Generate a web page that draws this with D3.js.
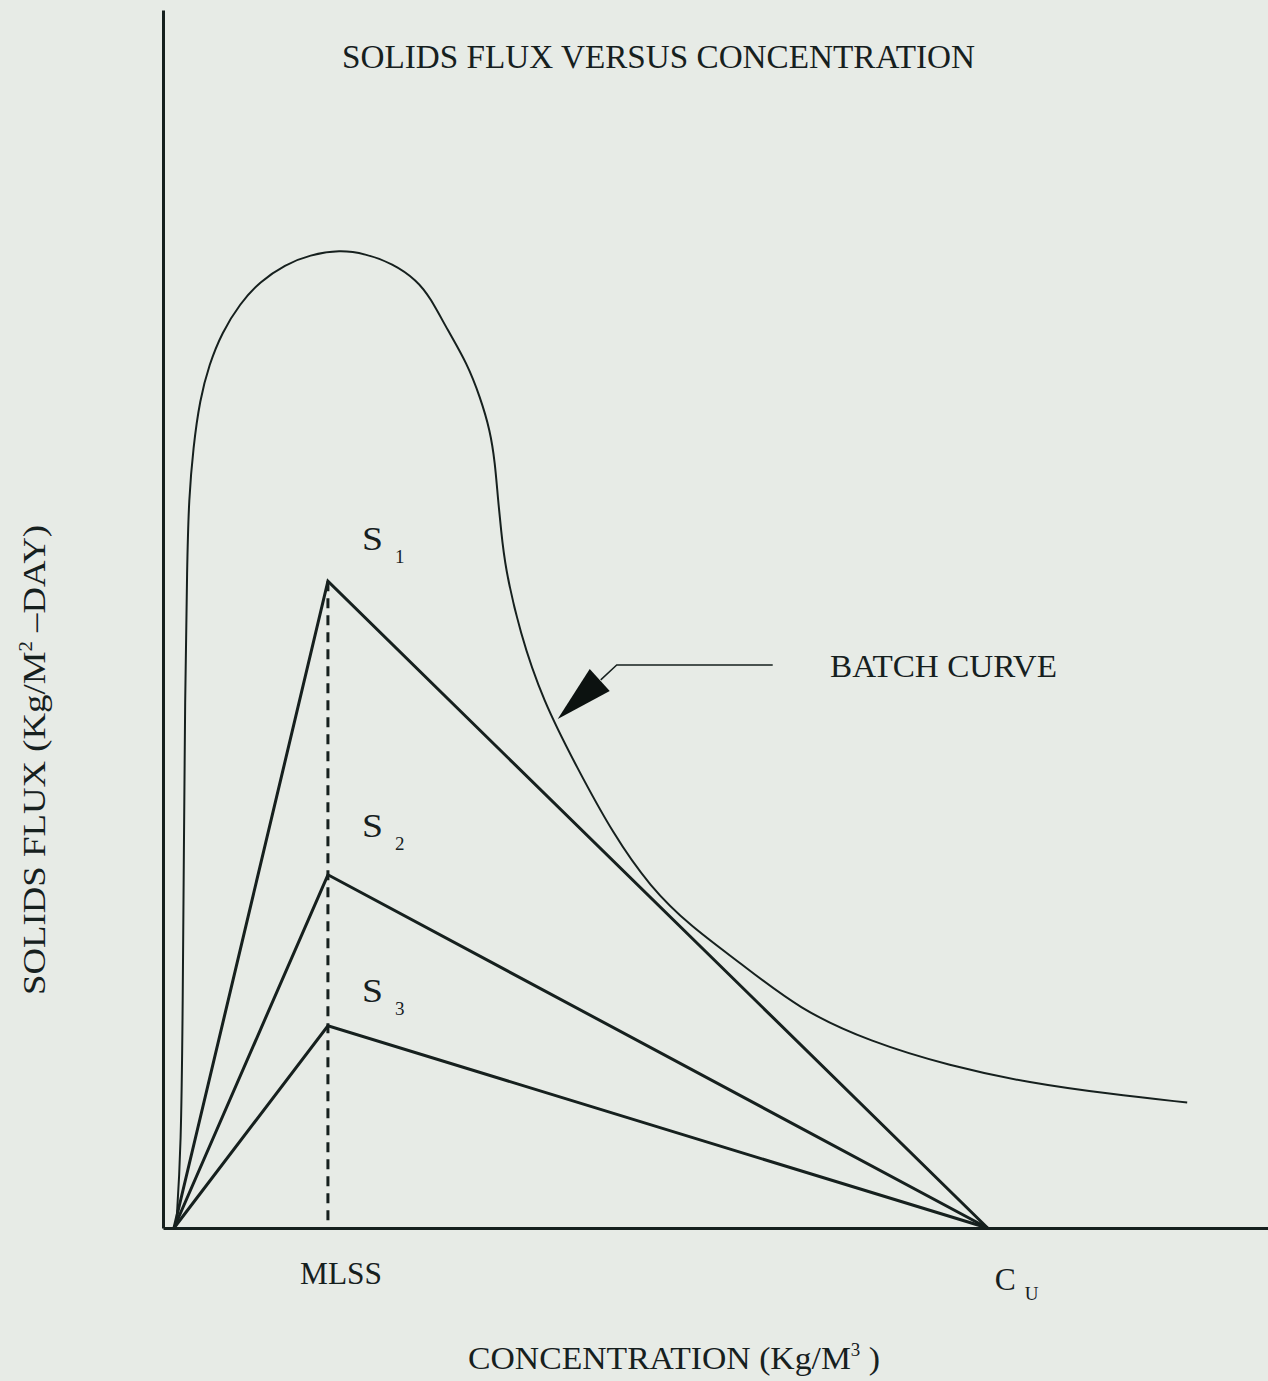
<!DOCTYPE html>
<html>
<head>
<meta charset="utf-8">
<script src="https://cdn.jsdelivr.net/npm/d3@7"></script>
<style>
  html, body { margin: 0; padding: 0; background: #e7ebe6; }
  svg { display: block; }
  text { font-family: "Liberation Serif", "DejaVu Serif", Times, serif; fill: #16201e; }
</style>
</head>
<body>
<script>
// ---------- data ----------
const title = "SOLIDS FLUX VERSUS CONCENTRATION";
const xAxisLabel = "CONCENTRATION (Kg/M";
const yAxisLabel = "SOLIDS FLUX (Kg/M";
const xTickLabels = ["MLSS", "C"];
const seriesNames = ["S", "S", "S"];
const seriesSubs = ["1", "2", "3"];

// operating lines: start -> (MLSS, peak) -> (Cu, 0)
const lineStartConc = 0.2;
const mlssConc = 3;
const cuConc = 15;
const seriesPeaks = [5.31, 2.90, 1.66];

// batch flux curve
const batchConc = [0.24, 0.33, 0.36, 0.38, 0.40, 0.44, 0.47, 0.55, 0.67, 0.84, 1.07, 1.40, 1.76, 2.22, 2.67, 3.22, 3.67, 4.18, 4.62, 4.86, 5.18, 5.53, 5.77, 5.95, 6.04, 6.09, 6.15, 6.22, 6.49, 6.91, 7.53, 8.18, 8.86, 9.59, 10.49, 11.59, 12.86, 14.31, 15.77, 17.22, 18.63];
const batchFlux = [0.02, 0.64, 1.87, 3.10, 4.33, 5.48, 5.98, 6.41, 6.80, 7.09, 7.35, 7.59, 7.77, 7.91, 7.99, 8.03, 8.00, 7.92, 7.78, 7.64, 7.37, 7.10, 6.82, 6.55, 6.28, 6.00, 5.73, 5.43, 4.89, 4.33, 3.78, 3.24, 2.80, 2.48, 2.18, 1.79, 1.53, 1.33, 1.19, 1.10, 1.03];
const batchLabel = "BATCH CURVE";
const arrowTip = [7.18, 4.18];

// ---------- drawing ----------
const W = 1268, H = 1381;
const ink = "#16201e";
const svg = d3.select("body").append("svg").attr("width", W).attr("height", H);
svg.append("rect").attr("width", W).attr("height", H).attr("fill", "#e7ebe6");

const x = d3.scaleLinear().domain([0, 20.1]).range([163, 1268]);
const y = d3.scaleLinear().domain([0, 10]).range([1228, 10]);

// axes (plain lines, no ticks)
const xAxis = d3.axisBottom(x).tickValues([]).tickSizeOuter(0);
const yAxis = d3.axisLeft(y).tickValues([]).tickSizeOuter(0);
svg.append("g").attr("transform", `translate(0,${y(0)})`).call(xAxis)
  .select(".domain").attr("stroke", ink).attr("stroke-width", 3);
svg.append("g").attr("transform", `translate(${x(0)},0)`).call(yAxis)
  .select(".domain").attr("stroke", ink).attr("stroke-width", 3);

// batch curve
const batchData = batchConc.map((c, i) => [c, batchFlux[i]]);
svg.append("path")
  .datum(batchData)
  .attr("fill", "none").attr("stroke", ink).attr("stroke-width", 2)
  .attr("d", d3.line().x(d => x(d[0])).y(d => y(d[1])).curve(d3.curveBasis));

// dashed MLSS line
svg.append("line")
  .attr("x1", x(mlssConc)).attr("x2", x(mlssConc))
  .attr("y1", y(seriesPeaks[0])).attr("y2", y(0))
  .attr("stroke", ink).attr("stroke-width", 3).attr("stroke-dasharray", "10,7");

// operating lines
const opLine = d3.line().x(d => x(d[0])).y(d => y(d[1]));
seriesPeaks.forEach(p => {
  svg.append("path")
    .datum([[lineStartConc, 0], [mlssConc, p], [cuConc, 0]])
    .attr("fill", "none").attr("stroke", ink).attr("stroke-width", 3)
    .attr("stroke-linejoin", "miter")
    .attr("d", opLine);
});

// series labels
const labelLift = [31, 38, 24];
seriesPeaks.forEach((p, i) => {
  const lx = x(mlssConc) + 34, ly = y(p) - labelLift[i];
  svg.append("text").attr("x", lx).attr("y", ly).attr("font-size", 33)
    .attr("textLength", 21).attr("lengthAdjust", "spacingAndGlyphs").text(seriesNames[i]);
  svg.append("text").attr("x", lx + 33).attr("y", ly + 13).attr("font-size", 19).text(seriesSubs[i]);
});

// title
svg.append("text").attr("x", 342).attr("y", 68).attr("font-size", 33)
  .attr("textLength", 633).attr("lengthAdjust", "spacingAndGlyphs").text(title);

// x tick labels
svg.append("text").attr("x", 300).attr("y", 1284).attr("font-size", 32)
  .attr("textLength", 82).attr("lengthAdjust", "spacingAndGlyphs").text(xTickLabels[0]);
svg.append("text").attr("x", x(cuConc) + 7).attr("y", 1290).attr("font-size", 32)
  .attr("textLength", 21).attr("lengthAdjust", "spacingAndGlyphs").text(xTickLabels[1]);
svg.append("text").attr("x", x(cuConc) + 37).attr("y", 1300).attr("font-size", 19).text("U");

// x axis label
const xl = svg.append("text").attr("x", 468).attr("y", 1369).attr("font-size", 32)
  .attr("textLength", 412).attr("lengthAdjust", "spacingAndGlyphs");
xl.append("tspan").text(xAxisLabel);
xl.append("tspan").attr("font-size", 18).attr("dy", -13).text("3");
xl.append("tspan").attr("dy", 13).text(" )");

// y axis label
const yl = svg.append("text").attr("transform", "translate(45,995) rotate(-90)")
  .attr("font-size", 32).attr("textLength", 470).attr("lengthAdjust", "spacingAndGlyphs");
yl.append("tspan").text(yAxisLabel);
yl.append("tspan").attr("font-size", 18).attr("dy", -13).text("2");
yl.append("tspan").attr("dy", 13).text(" \u2013DAY)");

// batch curve annotation arrow
const tx = x(arrowTip[0]), ty = y(arrowTip[1]);
svg.append("path")
  .attr("d", `M${tx},${ty} L${tx + 32},${ty - 50} L${tx + 52},${ty - 28} Z`)
  .attr("fill", "#0c1210");
svg.append("path")
  .attr("d", `M${tx + 43},${ty - 39} L${tx + 59},${ty - 54} L${tx + 215},${ty - 54}`)
  .attr("fill", "none").attr("stroke", ink).attr("stroke-width", 1.5);
svg.append("text").attr("x", 830).attr("y", 677).attr("font-size", 32)
  .attr("textLength", 227).attr("lengthAdjust", "spacingAndGlyphs").text(batchLabel);
</script>
</body>
</html>
